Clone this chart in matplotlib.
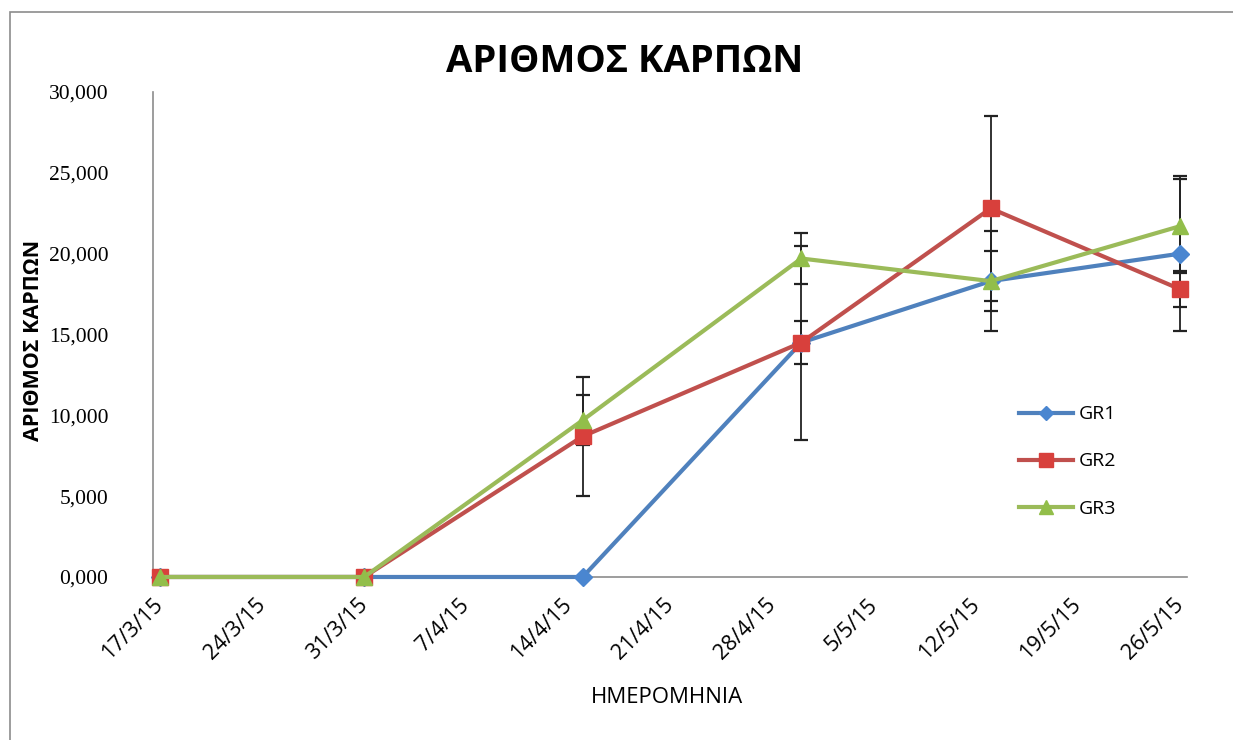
from datetime import datetime, timedelta

import matplotlib
matplotlib.use("Agg")
import matplotlib.pyplot as plt
import matplotlib.dates as mdates
from matplotlib.patches import Rectangle
from matplotlib.ticker import FuncFormatter

# ημερομηνίες μετρήσεων
dates = ["17/3/2015", "31/3/2015", "15/4/2015", "30/4/2015", "13/5/2015", "26/5/2015"]

gr1 = [0.0, 0.0, 0.0, 14.5, 18.3, 20.0]
gr1_err = [0.0, 0.0, 0.0, 6.0, 3.1, 4.8]

gr2 = [0.0, 0.0, 8.7, 14.5, 22.8, 17.8]
gr2_err = [0.0, 0.0, 3.7, 1.35, 5.7, 1.1]

gr3 = [0.0, 0.0, 9.7, 19.7, 18.3, 21.7]
gr3_err = [0.0, 0.0, 1.55, 1.55, 1.85, 2.9]

series_names = ["GR1", "GR2", "GR3"]

x = [datetime.strptime(d, "%d/%m/%Y") for d in dates]

font = ["Open Sans", "DejaVu Sans"]

fig = plt.figure(figsize=(12.33, 7.40), dpi=100)
ax = fig.add_axes([0.124, 0.2203, 0.839, 0.6554])

styles = [
    dict(color="#4F81BD", marker="D", mfc="#4A86D0", ms=9),
    dict(color="#C0504D", marker="s", mfc="#D8403C", ms=12),
    dict(color="#9BBB59", marker="^", mfc="#92BE4A", ms=12),
]

for name, y, err, st in zip(series_names, [gr1, gr2, gr3], [gr1_err, gr2_err, gr3_err], styles):
    ax.errorbar(x, y, yerr=err, fmt="none", ecolor="#222222", elinewidth=1.3,
                capsize=5, capthick=1.6, zorder=2)
    ax.plot(x, y, color=st["color"], lw=3, marker=st["marker"], ms=st["ms"],
            mfc=st["mfc"], mec=st["mfc"], label=name, zorder=3, clip_on=False)

ax.set_ylim(0, 30)
ax.set_yticks(range(0, 31, 5))
ax.yaxis.set_major_formatter(FuncFormatter(lambda v, p: f"{v:.3f}".replace(".", ",")))

start = x[0]
ax.set_xlim(start - timedelta(hours=12), x[-1] + timedelta(hours=12))
ticks = [start + timedelta(days=7 * i) for i in range(11)]
ax.set_xticks(ticks)
ax.xaxis.set_major_formatter(FuncFormatter(
    lambda v, p: (lambda d: f"{d.day}/{d.month}/{d.strftime('%y')}")(mdates.num2date(v))))

for s in ["top", "right"]:
    ax.spines[s].set_visible(False)
ax.spines["left"].set_color("#8C8C8C")
ax.spines["bottom"].set_color("#8C8C8C")
ax.spines["left"].set_linewidth(1.2)
ax.spines["bottom"].set_linewidth(1.2)

ax.tick_params(axis="y", length=0, pad=32, labelsize=15.5)
ax.tick_params(axis="x", length=0, pad=18, labelsize=15.5)
for lab in ax.get_yticklabels():
    lab.set_family(["Liberation Serif", "DejaVu Serif"])
for lab in ax.get_xticklabels():
    lab.set_family(font)
    lab.set_rotation(45)
    lab.set_ha("right")
    lab.set_va("center")
    lab.set_rotation_mode("anchor")

leg = ax.legend(loc="upper left", bbox_to_anchor=(0.82, 0.39), frameon=False,
                handlelength=2.8, labelspacing=1.5, handletextpad=0.3,
                markerscale=0.8, prop={"family": font, "size": 14})

fig.text(0.507, 0.916, "ΑΡΙΘΜΟΣ ΚΑΡΠΩΝ", ha="center", va="center",
         fontsize=27.5, fontweight="bold", family=font)
fig.text(0.027, 0.54, "ΑΡΙΘΜΟΣ ΚΑΡΠΩΝ", ha="center", va="center", rotation=90,
         fontsize=15.5, fontweight="bold", family=font)
fig.text(0.541, 0.058, "ΗΜΕΡΟΜΗΝΙΑ", ha="center", va="center",
         fontsize=16, family=font)

# περίγραμμα γραφήματος
fig.patches.append(Rectangle((10 / 1233, -0.1), 1.2, 1 - 12 / 740 + 0.1,
                             transform=fig.transFigure, fill=False,
                             edgecolor="#8C8C8C", lw=1.2))

fig.savefig("out.png", dpi=100)
